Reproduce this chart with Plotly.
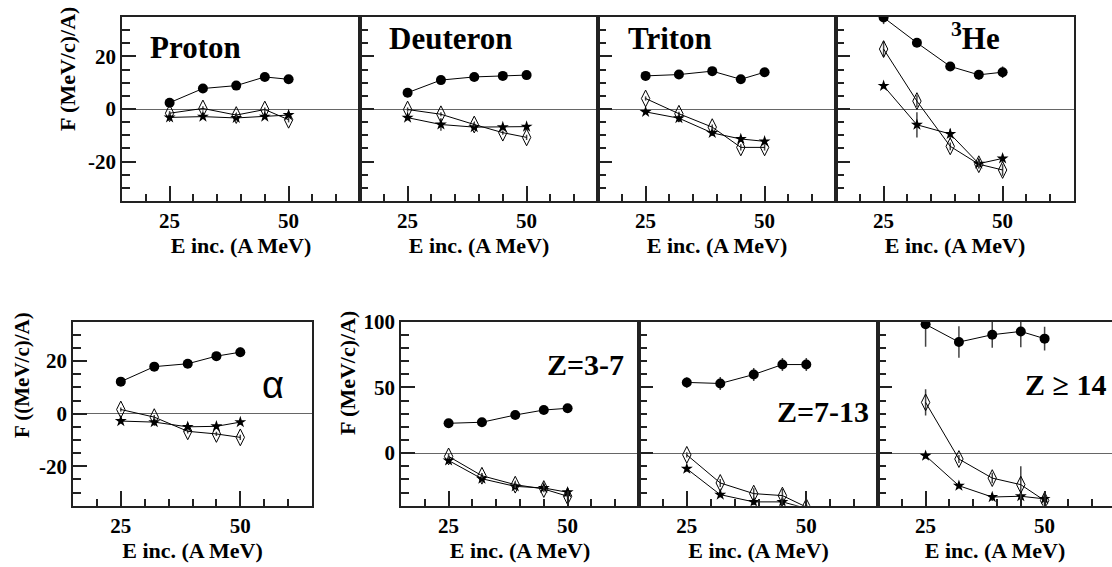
import plotly.graph_objects as go

# beam energies (A MeV)
energy = [25, 32, 39, 45, 50]

# filled dots / open diamonds / stars, per particle
proton_dot = [2.4, 7.8, 8.9, 12.2, 11.3]
proton_dia = [-1.6, 0.2, -2.3, -0.2, -4.1]
proton_star = [-3.2, -2.9, -3.4, -2.9, -2.3]
proton_err = [0.8, 0.8, 0.8, 0.8, 1.0]

deuteron_dot = [6.2, 11.0, 12.2, 12.6, 12.9]
deuteron_dia = [-0.2, -2.0, -5.9, -9.0, -10.8]
deuteron_star = [-3.3, -5.9, -6.9, -6.9, -6.7]
deuteron_star_err = [1.0, 2.4, 1.2, 1.0, 0.8]

triton_dot = [12.6, 13.1, 14.4, 11.3, 14.0]
triton_dia = [4.0, -1.8, -6.9, -14.6, -14.6]
triton_star = [-1.1, -3.5, -9.1, -11.4, -12.3]
triton_err = [0.8, 0.8, 1.0, 1.2, 1.2]

he3_dot = [34.8, 25.2, 16.2, 13.0, 14.0]
he3_dia = [22.8, 3.0, -14.2, -21.0, -23.2]
he3_star = [8.8, -6.0, -9.5, -20.8, -18.8]
he3_dot_err = [2.5, 1.2, 1.0, 1.8, 2.2]
he3_dia_err = [3.0, 2.2, 1.5, 1.5, 2.2]
he3_star_err = [1.0, 4.8, 2.0, 1.8, 1.5]

alpha_dot = [12.2, 17.9, 19.0, 21.9, 23.4]
alpha_dia = [1.6, -1.3, -6.7, -7.7, -9.0]
alpha_star = [-2.8, -3.2, -5.0, -4.8, -3.2]
alpha_dot_err = [0.8, 0.8, 0.8, 1.0, 1.8]

z37_dot = [22.7, 23.5, 29.0, 32.8, 34.1]
z37_dia = [-2.5, -17.2, -24.0, -27.3, -32.8]
z37_star = [-5.6, -19.5, -25.3, -26.5, -29.8]
z37_err = [2.0, 2.0, 2.5, 2.5, 3.0]

z713_dot = [53.8, 53.0, 59.8, 67.4, 67.4]
z713_dia = [-1.3, -22.7, -30.8, -32.3, -41.0]
z713_star = [-11.9, -31.6, -37.1, -37.1, -42.0]
z713_dot_err = [4.0, 5.0, 5.0, 5.0, 5.0]
z713_dia_err = [2.0, 3.0, 4.0, 5.0, 5.0]

z14_dot = [98.0, 84.5, 90.1, 92.6, 87.1]
z14_dia = [38.6, -4.5, -19.0, -24.0, -36.1]
z14_star = [-2.0, -24.8, -33.4, -32.8, -34.8]
z14_dot_err = [17.0, 12.0, 10.0, 12.0, 9.0]
z14_dia_err = [10.0, 3.0, 4.0, 14.0, 5.0]
z14_star_err = [2.0, 2.0, 3.0, 3.0, 5.0]

small_ticks = [-20, 0, 20]
big_ticks = [0, 50, 100]

W, H = 1112, 567
SERIF = "Liberation Serif"
INK = "#222"


def px_x(x):
    return x / W


def px_y(y):
    return 1 - y / H


top = (17, 201)
bot = (321.7, 505.7)
panels = [
    ("Proton", proton_dot, proton_dia, proton_star, proton_err, proton_err, proton_err, (122, 360), top, "small"),
    ("Deuteron", deuteron_dot, deuteron_dia, deuteron_star, proton_err, proton_err, deuteron_star_err, (360, 598), top, "small"),
    ("Triton", triton_dot, triton_dia, triton_star, triton_err, triton_err, triton_err, (598, 836), top, "small"),
    ("3He", he3_dot, he3_dia, he3_star, he3_dot_err, he3_dia_err, he3_star_err, (836, 1074), top, "small"),
    ("alpha", alpha_dot, alpha_dia, alpha_star, alpha_dot_err, proton_err, proton_err, (73, 312), bot, "small"),
    ("Z=3-7", z37_dot, z37_dia, z37_star, z37_err, z37_err, z37_err, (401, 639), bot, "big"),
    ("Z=7-13", z713_dot, z713_dia, z713_star, z713_dot_err, z713_dia_err, z37_err, (639, 878), bot, "big"),
    ("Z>=14", z14_dot, z14_dia, z14_star, z14_dot_err, z14_dia_err, z14_star_err, (878, 1112), bot, "big"),
]
first_in_row = {"Proton", "alpha", "Z=3-7"}

fig = go.Figure()
layout = {}

for i, (name, dot, dia, star, e_dot, e_dia, e_star, xs, ys, scale) in enumerate(panels):
    n = "" if i == 0 else str(i + 1)
    xa, ya = "x" + n, "y" + n
    err_style = dict(type="data", color="#444", thickness=1.5, width=0)
    series = [
        (star, e_star, dict(symbol="star", size=9, color="black")),
        (dia, e_dia, dict(symbol="diamond-tall-open", size=12, color="black", line=dict(width=1))),
        (dot, e_dot, dict(symbol="circle", size=10, color="black")),
    ]
    for vals, err, marker in series:
        fig.add_trace(go.Scatter(
            x=energy, y=vals, mode="lines+markers", xaxis=xa, yaxis=ya,
            line=dict(color="black", width=1), marker=marker,
            error_y=dict(array=err, **err_style), showlegend=False,
        ))

    # last panel is cut by the page edge
    x_hi = 65 if xs[1] < W else 15 + (xs[1] - xs[0]) / 4.76
    layout["xaxis" + n] = dict(
        domain=[px_x(xs[0]), px_x(xs[1])], range=[15, x_hi], anchor=ya,
        tickmode="linear", tick0=0, dtick=25,
        ticks="inside", ticklen=15, tickwidth=1.5, tickcolor=INK,
        minor=dict(tick0=0, dtick=5, ticks="inside", ticklen=7, tickwidth=1.5, tickcolor=INK),
        showline=True, linecolor=INK, linewidth=1.5, mirror=True,
        showgrid=False, zeroline=False, automargin=False,
        tickfont=dict(family=SERIF, size=21, color="black", weight="bold"),
        title=dict(text="E inc. (A MeV)", standoff=4 if ys == top else 1,
                   font=dict(family=SERIF, size=22, color="black", weight="bold")),
    )
    if scale == "small":
        yr, yv, ymin = [-35, 35], small_ticks, 5
    else:
        yr, yv, ymin = [-40, 100], big_ticks, 10
    layout["yaxis" + n] = dict(
        domain=[px_y(ys[1]), px_y(ys[0])], range=yr, anchor=xa,
        tickmode="array", tickvals=yv, ticktext=[str(v) for v in yv],
        ticks="inside", ticklen=14, tickwidth=1.5, tickcolor=INK,
        minor=dict(tickmode="linear", tick0=0, dtick=ymin, ticks="inside", ticklen=8,
                   tickwidth=1.5, tickcolor=INK),
        showline=True, linecolor=INK, linewidth=1.5, mirror=(xs[1] < W),
        showgrid=False, zeroline=True, zerolinecolor="#666", zerolinewidth=1.2,
        showticklabels=name in first_in_row, automargin=False,
        tickfont=dict(family=SERIF, size=21, color="black", weight="bold"),
    )

bold = dict(family=SERIF, color="black", weight="bold")
notes = [
    ("Proton", 195, 47, 31, bold),
    ("Deuteron", 450, 38, 31, bold),
    ("Triton", 670, 38, 31, bold),
    ("<sup>3</sup>He", 975, 36, 31, bold),
    ("α", 273, 385, 38, dict(family="Liberation Sans", color="black", weight="normal")),
    ("Z=3-7", 585, 364, 30, bold),
    ("Z=7-13", 823, 411, 30, bold),
    ("Z ≥ 14", 1065, 384, 30, bold),
]
annotations = []
for text, x, y, size, f in notes:
    annotations.append(dict(
        text=text, x=px_x(x), y=px_y(y), xref="paper", yref="paper",
        xanchor="center", yanchor="middle", showarrow=False, font=dict(size=size, **f),
    ))

for text, x, y, size in [("F (MeV/c)/A)", 68, 69, 22), ("F ((MeV/c)/A)", 22, 375, 21),
                         ("F (MeV/c)/A)", 347, 373, 22)]:
    annotations.append(dict(
        text=text, x=px_x(x), y=px_y(y), xref="paper", yref="paper", textangle=-90,
        xanchor="center", yanchor="middle", showarrow=False, font=dict(size=size, **bold),
    ))

fig.update_layout(
    width=W, height=H,
    margin=dict(l=0, r=0, t=0, b=0),
    paper_bgcolor="white", plot_bgcolor="white",
    showlegend=False,
    annotations=annotations,
    **layout,
)

# drop the default body margin so the figure fills the window exactly
fig.write_html(
    "out.html",
    config={"displayModeBar": False},
    post_script="document.body.style.margin='0';document.body.style.overflow='hidden';",
)
